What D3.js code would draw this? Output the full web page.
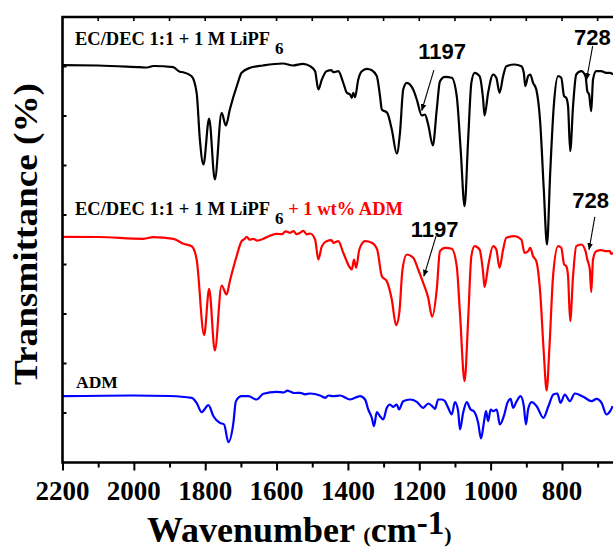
<!DOCTYPE html>
<html lang="en">
<head>
<meta charset="UTF-8">
<title>FTIR spectra</title>
<script src="https://d3js.org/d3.v7.min.js"></script>
<style>
    body { margin: 0; background: #fff; }
    svg { display: block; }
    .serif { font-family: 'Liberation Serif', 'Times New Roman', serif; font-weight: bold; }
    .sans { font-family: 'Liberation Sans', Arial, sans-serif; font-weight: bold; }
</style>
</head>
<body>
<svg id="chart" width="613" height="550"></svg>
<script>
// wavenumber (cm-1), transmittance (offset units, stacked)
const blackSpectrum = [
    [2200, 397.3], [2100, 397], [1983, 395.3], [1963, 395], [1945, 396.5], [1890, 395.3],
    [1871, 390.7], [1862, 390.3], [1838, 386.3], [1824, 369.7], [1815, 323], [1805, 298],
    [1789, 344], [1773, 283], [1754, 349.7], [1742, 337], [1731, 353], [1710, 378],
    [1698, 389.7], [1674, 394.7], [1638, 397], [1582, 399], [1554, 397], [1526, 398.7],
    [1506, 396.3], [1492, 391.3], [1483, 373], [1473, 383], [1460, 391.3], [1446, 392.3],
    [1441, 390.3], [1427, 391.3], [1413, 379.7], [1403, 369.7], [1394, 368], [1389, 364.7],
    [1385, 369.7], [1380, 365.3], [1371, 383], [1361, 391.3], [1347, 393.7], [1333, 392.3],
    [1319, 386.3], [1310, 366.3], [1305, 353], [1290, 349.7], [1277, 333], [1263, 309],
    [1254, 330], [1245, 373], [1235, 379.7], [1217, 373], [1207, 363], [1193, 347],
    [1184, 348], [1175, 338], [1162, 317], [1151, 353], [1142, 381.3], [1128, 385.7],
    [1109, 384.7], [1095, 366.3], [1084, 313], [1073, 256.3], [1063, 323], [1054, 379.7],
    [1045, 389.7], [1031, 386.3], [1021, 363], [1017, 347], [1007, 369.7], [993, 388],
    [984, 384.7], [975, 369.7], [965, 386.3], [956, 396.3], [933, 398], [914, 396.3],
    [907, 389.7], [903, 376.3], [895, 386.3], [889, 388], [881, 379.7], [872, 373],
    [861, 340], [851, 273], [842, 218], [833, 290], [823, 356.3], [811, 386.3],
    [802, 384.7], [794, 366.3], [788, 364.7], [783, 356.3], [777, 311.3], [769, 356.3],
    [760, 388], [746, 391.3], [734, 386.3], [729, 371.3], [724, 368], [718, 351.3],
    [713, 383], [704, 391.3], [690, 391.3], [676, 389.7], [666, 389.7], [657, 388]
];

const redSpectrum = [
    [2200, 225.7], [2100, 225.5], [1974, 223.7], [1946, 225.3], [1889, 223.7], [1861, 218.7],
    [1838, 216.3], [1824, 203], [1803, 127.3], [1789, 173.7], [1773, 112], [1754, 177],
    [1740, 168], [1731, 181.3], [1712, 206.3], [1698, 221.3], [1690, 223.5], [1684, 225.7],
    [1675, 222.8], [1665, 223.7], [1655, 221.9], [1637, 223.7], [1620, 226.5], [1600, 228.7],
    [1585, 228.3], [1575, 231.2], [1562, 229.7], [1552, 231.5], [1545, 228.4], [1534, 229.7],
    [1525, 231.6], [1515, 228.2], [1506, 229], [1492, 223], [1483, 203], [1473, 216.3],
    [1460, 221.3], [1446, 222.3], [1441, 219.7], [1427, 221.3], [1413, 209.7], [1394, 194.7],
    [1389, 193], [1383, 203], [1377, 194.7], [1368, 213], [1352, 221.3], [1333, 219.7],
    [1318, 213], [1305, 186.3], [1291, 181.3], [1277, 163], [1265, 137.3], [1256, 149.7],
    [1247, 193], [1235, 208], [1217, 204.7], [1203, 193], [1189, 179.7], [1175, 164.7],
    [1164, 145.7], [1151, 173], [1142, 211.3], [1128, 214.7], [1109, 213.7], [1095, 196.3],
    [1086, 149.7], [1073, 81.3], [1063, 143], [1054, 206.3], [1045, 216.3], [1031, 213],
    [1021, 189.7], [1017, 175.3], [1007, 196.3], [993, 216.3], [984, 213], [975, 194.7],
    [965, 213], [956, 224.7], [933, 226.3], [914, 223], [905, 209.7], [895, 211.3],
    [889, 214.7], [881, 206.3], [872, 201.3], [861, 169.7], [851, 109.7], [843, 72],
    [835, 116.3], [825, 186.3], [811, 216.3], [802, 214.7], [794, 198], [788, 196.3],
    [783, 186.3], [777, 141.3], [769, 186.3], [760, 216.3], [746, 218], [734, 211.3],
    [729, 203], [722, 193], [718, 170.3], [713, 203], [704, 211.3], [690, 212.3],
    [676, 211.3], [666, 211.3], [662, 208.7], [657, 209.7]
];

const blueSpectrum = [
    [2200, 66.3], [2002, 67], [1900, 66.5], [1838, 64.7], [1824, 59.7], [1810, 50.3],
    [1791, 57.3], [1777, 46.3], [1759, 39.7], [1747, 38], [1735, 20.3], [1721, 39.7],
    [1714, 61.3], [1698, 66.3], [1679, 66.3], [1656, 63], [1637, 68.7], [1600, 70.7],
    [1580, 70], [1570, 71.8], [1562, 71], [1550, 69.5], [1534, 69.7], [1520, 68.2],
    [1506, 69], [1478, 67], [1464, 64.7], [1455, 67], [1441, 66.3], [1422, 67],
    [1394, 63], [1366, 66.3], [1352, 63], [1343, 53], [1333, 44.7], [1327, 36.3],
    [1319, 50.3], [1310, 46.3], [1301, 43], [1291, 54.7], [1282, 58], [1273, 55.7],
    [1263, 58], [1257, 53], [1245, 61.3], [1226, 63], [1207, 60.7], [1189, 54.7],
    [1175, 59], [1162, 55.7], [1156, 53.7], [1147, 63], [1137, 63], [1128, 61.3],
    [1119, 54.7], [1109, 48], [1100, 60.3], [1091, 51.3], [1086, 33], [1077, 49.7],
    [1067, 60.3], [1056, 53], [1047, 51.3], [1035, 39.7], [1027, 24], [1019, 39.7],
    [1013, 51.3], [1007, 41.3], [1000, 53], [993, 51.3], [983, 53], [974, 38],
    [963, 46.3], [953, 59.7], [944, 63.7], [937, 54.7], [927, 61.3], [916, 66.3],
    [907, 56.3], [901, 38], [895, 53], [885, 60.3], [871, 56.3], [852, 44.7],
    [838, 56.3], [824, 68], [813, 69], [804, 59.7], [792, 68], [778, 61.3],
    [764, 69], [740, 65.7], [717, 61.3], [703, 63.7], [689, 59.7], [675, 48],
    [665, 51.3], [658, 56.3]
];

const xTicks = d3.range(2200, 650, -100);
const xLabels = [2200, 2000, 1800, 1600, 1400, 1200, 1000, 800];

// peak annotations: label, arrow tip, arrow tail, text anchor (wavenumber, transmittance)
const peakLabels = ["1197", "728", "1197", "728"];
const peakTips = [[1193, 352], [731, 383], [1187, 186.3], [724, 213]];
const peakTails = [[1159, 392.3], [714, 416.3], [1153, 226.3], [708, 245.7]];
const peakText = [[1136, 403.7], [715, 418], [1157, 225.7], [720, 254.7]];

const svg = d3.select("#chart");
const plotL = 62.5, plotR = 613, plotT = 17, plotB = 462.5;

const x = d3.scaleLinear().domain([2200, 657]).range([plotL, plotR]);
const y = d3.scaleLinear().domain([0, 445.5]).range([plotB, plotT]);

const line = d3.line()
    .x(d => x(d[0]))
    .y(d => y(d[1]))
    .curve(d3.curveMonotoneX);

const spectra = [
    { data: blackSpectrum, color: "#000000" },
    { data: redSpectrum, color: "#ff0000" },
    { data: blueSpectrum, color: "#0000ff" }
];

spectra.forEach(s => {
    svg.append("path")
        .datum(s.data)
        .attr("d", line)
        .attr("fill", "none")
        .attr("stroke", s.color)
        .attr("stroke-width", 2.2)
        .attr("stroke-linejoin", "round");
});

// bottom axis
const xAxis = d3.axisBottom(x)
    .tickValues(xTicks)
    .tickSize(0)
    .tickFormat("");
const gx = svg.append("g").attr("transform", `translate(0,${plotB})`).call(xAxis);
gx.select(".domain").remove();
gx.selectAll(".tick line").remove();
gx.selectAll(".tick").append("line")
    .attr("y1", 0)
    .attr("y2", d => d % 200 === 0 ? 8 : 5)
    .attr("stroke", "#000")
    .attr("stroke-width", 2);

svg.selectAll(".xlabel")
    .data(xLabels)
    .enter()
    .append("text")
    .attr("class", "serif")
    .attr("x", d => x(d))
    .attr("y", 500)
    .attr("text-anchor", "middle")
    .attr("font-size", 27)
    .text(d => d);

// top ticks (inward)
svg.selectAll(".ttick")
    .data(xTicks.slice(1))
    .enter()
    .append("line")
    .attr("x1", d => x(d)).attr("x2", d => x(d))
    .attr("y1", plotT).attr("y2", plotT + 4)
    .attr("stroke", "#000")
    .attr("stroke-width", 1.6);

// left ticks (inward)
const yTicks = d3.range(1, 9).map(i => i * 445.5 / 9);
svg.selectAll(".ytick")
    .data(yTicks)
    .enter()
    .append("line")
    .attr("x1", plotL).attr("x2", plotL + 4)
    .attr("y1", d => y(d)).attr("y2", d => y(d))
    .attr("stroke", "#000")
    .attr("stroke-width", 2);

// frame
svg.append("path")
    .attr("d", `M${plotR + 5},${plotT}H${plotL}V${plotB}H${plotR + 5}`)
    .attr("fill", "none")
    .attr("stroke", "#000")
    .attr("stroke-width", 2.6);

// arrowhead
svg.append("defs").append("marker")
    .attr("id", "arrow")
    .attr("viewBox", "0 0 10 10")
    .attr("refX", 9).attr("refY", 5)
    .attr("markerWidth", 7).attr("markerHeight", 7)
    .attr("markerUnits", "userSpaceOnUse")
    .attr("orient", "auto")
    .append("path")
    .attr("d", "M0,1L10,5L0,9z")
    .attr("fill", "#000");

peakLabels.forEach((lab, i) => {
    svg.append("line")
        .attr("x1", x(peakTails[i][0])).attr("y1", y(peakTails[i][1]))
        .attr("x2", x(peakTips[i][0])).attr("y2", y(peakTips[i][1]))
        .attr("stroke", "#000")
        .attr("stroke-width", 1.1)
        .attr("marker-end", "url(#arrow)");
    svg.append("text")
        .attr("class", "sans")
        .attr("x", x(peakText[i][0]))
        .attr("y", y(peakText[i][1]))
        .attr("text-anchor", "middle")
        .attr("font-size", 22)
        .text(lab);
});

// series labels
const t1 = svg.append("text").attr("class", "serif").attr("x", 75).attr("y", 45).attr("font-size", 18.5);
t1.append("tspan").text("EC/DEC 1:1 + 1 M LiPF");
t1.append("tspan").attr("dx", 5).attr("dy", 8.5).attr("font-size", 17).text("6");

const t2 = svg.append("text").attr("class", "serif").attr("x", 75).attr("y", 215).attr("font-size", 18.5);
t2.append("tspan").text("EC/DEC 1:1 + 1 M LiPF");
t2.append("tspan").attr("dx", 5).attr("dy", 8.5).attr("font-size", 17).text("6");
t2.append("tspan").attr("dy", -8.5).attr("fill", "#ff0000").text(" + 1 wt% ADM");

svg.append("text").attr("class", "serif").attr("x", 76).attr("y", 388)
    .attr("font-size", 17.5).text("ADM");

// axis titles
svg.append("text")
    .attr("class", "serif")
    .attr("transform", "translate(37,234) rotate(-90)")
    .attr("text-anchor", "middle")
    .attr("font-size", 33)
    .attr("textLength", 302)
    .attr("lengthAdjust", "spacingAndGlyphs")
    .text("Transmittance (%)");

const xt = svg.append("text").attr("class", "serif").attr("x", 147).attr("y", 542).attr("font-size", 36);
xt.append("tspan").text("Wavenumber ");
xt.append("tspan").attr("font-size", 22).text("(");
xt.append("tspan").text("cm");
xt.append("tspan").attr("dy", -8).attr("font-size", 33).text("-1");
xt.append("tspan").attr("dy", 8).attr("font-size", 22).text(")");
</script>
</body>
</html>
